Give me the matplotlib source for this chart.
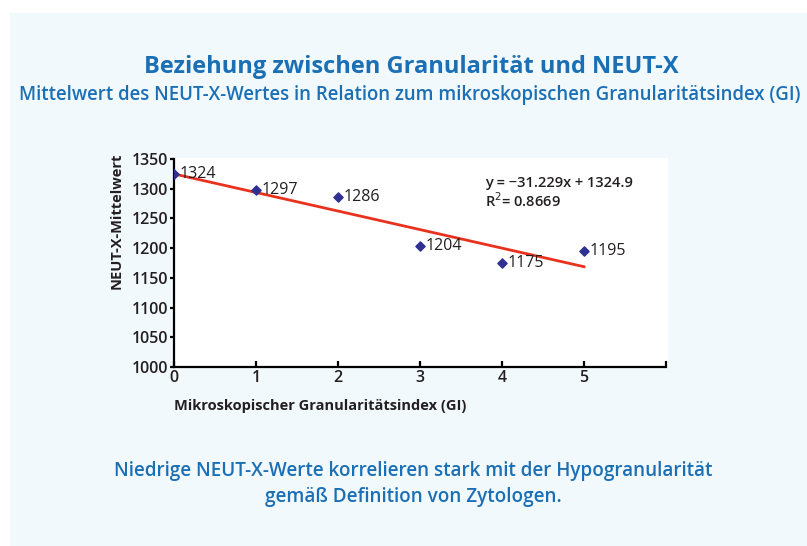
import numpy as np
import matplotlib.pyplot as plt

# DATA
gi_index = [0, 1, 2, 3, 4, 5]
neut_x = [1324, 1297, 1286, 1204, 1175, 1195]
slope = -31.229
intercept = 1324.9
r_squared = 0.8669
x_ticks = [0, 1, 2, 3, 4, 5, 6]
x_tick_labels = ["0", "1", "2", "3", "4", "5", ""]
y_ticks = [1000, 1050, 1100, 1150, 1200, 1250, 1300, 1350]

# STYLE
PANEL = "#F2F9FD"
BLUE = "#1B6FB5"
DARK = "#231F20"
plt.rcParams["font.family"] = ["Open Sans", "DejaVu Sans"]

W, H = 807, 546
fig = plt.figure(figsize=(W / 100, H / 100), dpi=100)
fig.patch.set_facecolor("white")

# light blue panel behind everything
fig.add_artist(plt.Rectangle((10 / W, 0), 1 - 10 / W, 1 - 13 / H,
                             transform=fig.transFigure, facecolor=PANEL,
                             edgecolor="none", zorder=-10))

# white plot area (slightly wider than the axis range)
fig.add_artist(plt.Rectangle((173 / W, 1 - 368 / H), (668 - 173) / W, (368 - 158) / H,
                             transform=fig.transFigure, facecolor="white",
                             edgecolor="none", zorder=-5))

ax = fig.add_axes([174 / W, 1 - 367 / H, (666 - 174) / W, (367 - 159) / H])
ax.patch.set_alpha(0)

# TREND LINE
xfit = np.array([gi_index[0], gi_index[-1]])
ax.plot(xfit, slope * xfit + intercept, color="#E8321E", lw=2, zorder=2)

# POINTS + LABELS
ax.scatter(gi_index, neut_x, marker="D", s=22, color="#2E3192", zorder=3)
for x, y in zip(gi_index, neut_x):
    ax.annotate(str(y), (x, y), xytext=(4, 0), textcoords="offset points",
                va="center", ha="left", fontsize=11.5, color=DARK,
                fontweight="medium")

# EQUATION
ax.text(3.79, 1309, f"y = \u2212{abs(slope):.3f}x + {intercept}", fontsize=10.5,
        color=DARK, va="center", fontweight="semibold")
ax.text(3.79, 1280, f"R$^2$= {r_squared}", fontsize=10.5,
        color=DARK, va="center", fontweight="semibold")

# AXES
ax.set_xlim(0, 6)
ax.set_ylim(1000, 1350)
ax.set_xticks(x_ticks)
ax.set_xticklabels(x_tick_labels)
ax.set_yticks(y_ticks)
for s in ["top", "right"]:
    ax.spines[s].set_visible(False)
for s in ["left", "bottom"]:
    ax.spines[s].set_linewidth(1.6)
    ax.spines[s].set_color("black")
ax.tick_params(axis="x", direction="in", length=4, width=1.6, pad=2,
               labelsize=11.5, labelcolor=DARK)
ax.tick_params(axis="y", direction="out", length=3, width=1.6, pad=1,
               labelsize=11.5, labelcolor=DARK)
for lbl in ax.get_xticklabels() + ax.get_yticklabels():
    lbl.set_fontweight("semibold")

fig.text(117 / W, 1 - 221 / H, "NEUT-X-Mittelwert", fontsize=10.5, rotation=90,
         fontweight="bold", color=DARK, ha="center", va="center")
fig.text(174 / W, 1 - 406 / H, "Mikroskopischer Granularitätsindex (GI)", fontsize=10.5,
         fontweight="bold", color=DARK, ha="left", va="center")

# TITLES
fig.text(411 / W, 1 - 67 / H, "Beziehung zwischen Granularität und NEUT-X",
         fontsize=17, fontweight="bold", color=BLUE, ha="center", va="center")
fig.text(410 / W, 1 - 95 / H,
         "Mittelwert des NEUT-X-Wertes in Relation zum mikroskopischen Granularitätsindex (GI)",
         fontsize=13.4, fontweight="semibold", color=BLUE, ha="center", va="center")

# FOOTNOTE
fig.text(413 / W, 1 - 471 / H, "Niedrige NEUT-X-Werte korrelieren stark mit der Hypogranularität",
         fontsize=13.6, fontweight="semibold", color=BLUE, ha="center", va="center")
fig.text(413 / W, 1 - 497 / H, "gemäß Definition von Zytologen.",
         fontsize=13.6, fontweight="semibold", color=BLUE, ha="center", va="center")

fig.savefig("out.png", dpi=100)
